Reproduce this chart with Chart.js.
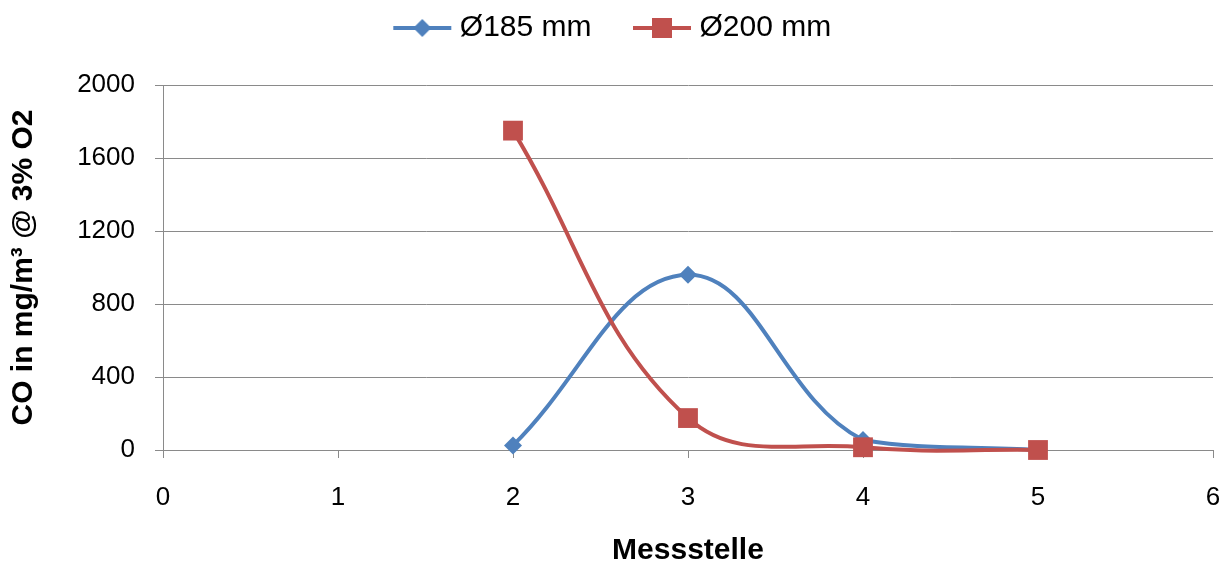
<!DOCTYPE html>
<html lang="de">
<head>
    <meta charset="UTF-8">
    <title>CO in mg/m³ je Messstelle</title>
    <script src="https://cdn.jsdelivr.net/npm/chart.js"></script>
    <style>
        body {
            margin: 0;
            background: #ffffff;
        }
        #wrap {
            width: 1230px;
            height: 570px;
        }
    </style>
</head>
<body>

<div id="wrap">
    <canvas id="coChart" width="1230" height="570"></canvas>
</div>

<script>
    // Messwerte
    const messstelle = [2, 3, 4, 5];
    const co185 = [25, 960, 55, 0];
    const co200 = [1750, 175, 15, 0];
    const serienNamen = ['Ø185 mm', 'Ø200 mm'];

    const blau = '#4F81BD';
    const rot = '#C0504D';
    const grau = '#8a8a8a';
    const schrift = "'Liberation Sans', Arial, sans-serif";

    // Legendensymbol: Linie mit Marker in der Mitte
    function legendIcon(color, style) {
        const c = document.createElement('canvas');
        c.width = 96;
        c.height = 24;
        const g = c.getContext('2d');
        g.strokeStyle = color;
        g.lineWidth = 4;
        g.beginPath();
        g.moveTo(28, 12);
        g.lineTo(86, 12);
        g.stroke();
        g.fillStyle = color;
        if (style === 'rect') {
            g.fillRect(47, 2, 20, 20);
        } else {
            g.beginPath();
            g.moveTo(57, 3);
            g.lineTo(66, 12);
            g.lineTo(57, 21);
            g.lineTo(48, 12);
            g.closePath();
            g.fill();
        }
        return c;
    }
    const icons = [legendIcon(blau, 'rectRot'), legendIcon(rot, 'rect')];

    // etwas mehr Abstand zwischen Legende und Diagramm
    const legendAbstand = {
        id: 'legendAbstand',
        afterInit(chart) {
            const fit = chart.legend.fit;
            chart.legend.fit = function () {
                fit.call(this);
                this.height += 32;
            };
        }
    };

    const punkte = (werte) => messstelle.map((x, i) => ({ x: x, y: werte[i] }));

    const ctx = document.getElementById('coChart').getContext('2d');
    new Chart(ctx, {
        type: 'scatter',
        data: {
            datasets: [{
                label: serienNamen[0],
                data: punkte(co185),
                borderColor: blau,
                backgroundColor: blau,
                pointStyle: 'rectRot',
                pointRadius: 9,
                pointBorderWidth: 0,
                borderWidth: 4,
                showLine: true,
                tension: 0.4,
                clip: false,
                order: 2
            }, {
                label: serienNamen[1],
                data: punkte(co200),
                borderColor: rot,
                backgroundColor: rot,
                pointStyle: 'rect',
                pointRadius: 14,
                pointBorderWidth: 0,
                borderWidth: 4,
                showLine: true,
                tension: 0.4,
                capBezierPoints: false,
                clip: false,
                order: 1
            }]
        },
        options: {
            responsive: false,
            animation: false,
            layout: { padding: { top: -17, right: 17, left: 0, bottom: 0 } },
            plugins: {
                tooltip: { enabled: false },
                legend: {
                    position: 'top',
                    labels: {
                        usePointStyle: true,
                        pointStyleWidth: 63,
                        padding: 30,
                        color: '#000',
                        font: { family: schrift, size: 30 },
                        generateLabels: (chart) => chart.data.datasets.map((ds, i) => ({
                            text: ds.label,
                            pointStyle: icons[i],
                            fillStyle: ds.borderColor,
                            strokeStyle: ds.borderColor,
                            lineWidth: 0,
                            fontColor: '#000',
                            hidden: false,
                            datasetIndex: i
                        }))
                    }
                }
            },
            scales: {
                x: {
                    type: 'linear',
                    min: 0,
                    max: 6,
                    ticks: {
                        stepSize: 1,
                        color: '#000',
                        padding: 24,
                        font: { family: schrift, size: 26 }
                    },
                    grid: { drawOnChartArea: false, color: grau, tickLength: 8 },
                    border: { color: grau },
                    title: {
                        display: true,
                        text: 'Messstelle',
                        color: '#000',
                        padding: { top: 0, bottom: 1 },
                        font: { family: schrift, size: 30, weight: 'bold' }
                    },
                    afterFit: (scale) => {
                        scale.height = 120;
                        scale.paddingRight = 0;
                    }
                },
                y: {
                    min: 0,
                    max: 2000,
                    ticks: {
                        stepSize: 400,
                        color: '#000',
                        padding: 20,
                        font: { family: schrift, size: 26 },
                        callback: (v) => String(v)
                    },
                    grid: { color: grau, tickLength: 8 },
                    border: { color: grau },
                    title: {
                        display: true,
                        text: 'CO in mg/m³ @ 3% O2',
                        color: '#000',
                        padding: { top: 6, bottom: 0 },
                        font: { family: schrift, size: 30, weight: 'bold' }
                    },
                    afterFit: (scale) => { scale.width = 163; }
                }
            }
        },
        plugins: [legendAbstand]
    });
</script>

</body>
</html>
